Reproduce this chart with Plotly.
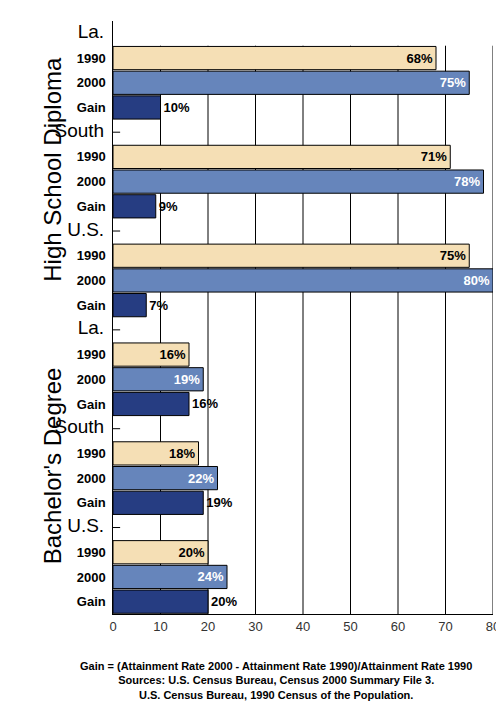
import plotly.graph_objects as go

regions = ["La.", "South", "U.S."]
hs_1990 = [68, 71, 75]
hs_2000 = [75, 78, 80]
hs_gain = [10, 9, 7]
ba_1990 = [16, 18, 20]
ba_2000 = [19, 22, 24]
ba_gain = [16, 19, 20]
row_labels = ["1990", "2000", "Gain"]
x_ticks = [0, 10, 20, 30, 40, 50, 60, 70, 80]

C1990 = "#f5dfb5"
C2000 = "#6685bb"
CGAIN = "#263d82"

# build rows top to bottom: header row then 1990/2000/Gain per region
rows = []
for block in [(hs_1990, hs_2000, hs_gain), (ba_1990, ba_2000, ba_gain)]:
    for r, name in enumerate(regions):
        rows.append(("head", name, None))
        rows.append(("1990", "1990", block[0][r]))
        rows.append(("2000", "2000", block[1][r]))
        rows.append(("gain", "Gain", block[2][r]))

ypos = [-i for i in range(len(rows))]
tickvals, ticktext = [], []
for (kind, lab, v), y in zip(rows, ypos):
    tickvals.append(y)
    if kind == "head":
        ticktext.append("<span style='font-size:19px'>%s </span>" % lab)
    else:
        ticktext.append("<b>%s</b> " % lab)

fig = go.Figure()
styles = {"1990": (C1990, "inside", "black"),
          "2000": (C2000, "inside", "white"),
          "gain": (CGAIN, "outside", "black")}
for kind, (col, pos, tcol) in styles.items():
    xs = [v for k, l, v in rows if k == kind]
    ys = [y for (k, l, v), y in zip(rows, ypos) if k == kind]
    fig.add_trace(go.Bar(
        x=xs, y=ys, orientation="h", width=0.94,
        marker=dict(color=col, line=dict(color="black", width=1)),
        text=["<b>%d%%</b>" % v for v in xs], textposition=pos,
        insidetextanchor="end", cliponaxis=False,
        textfont=dict(color=tcol, size=13, family="Liberation Sans"),
        hoverinfo="skip"))

shapes = []
for t in x_ticks[1:]:
    shapes.append(dict(type="line", xref="x", yref="y", x0=t, x1=t,
                       y0=-23.5, y1=-0.5, layer="below",
                       line=dict(color="black", width=1)))
for (kind, lab, v), y in zip(rows, ypos):
    if kind == "head" and y != 0:
        shapes.append(dict(type="line", xref="x", yref="y", x0=0, x1=1.5,
                           y0=y, y1=y, line=dict(color="black", width=1)))

fig.update_layout(
    width=504, height=705, margin=dict(l=105, r=19, t=13, b=99),
    paper_bgcolor="white", plot_bgcolor="white", showlegend=False,
    barmode="overlay", shapes=shapes,
    font=dict(family="Liberation Sans", color="black"),
    xaxis=dict(range=[0, 80], tickvals=x_ticks, showgrid=False,
               zeroline=False, showline=True, linecolor="black",
               automargin=False, tickfont=dict(size=13, color="#333")),
    yaxis=dict(range=[-23.5, 0.5], tickvals=tickvals, ticktext=ticktext,
               showgrid=False, zeroline=False, showline=True,
               linecolor="black", ticks="", ticklen=0, automargin=False,
               tickfont=dict(size=13, color="black")),
    annotations=[
        dict(text="High School Diploma", textangle=-90, x=-0.2, y=-5.5,
             xref="paper", yref="y", showarrow=False,
             font=dict(size=24)),
        dict(text="Bachelor's Degree", textangle=-90, x=-0.2, y=-17.5,
             xref="paper", yref="y", showarrow=False,
             font=dict(size=24)),
        dict(text="<b>Gain = (Attainment Rate 2000 - Attainment Rate 1990)/Attainment Rate 1990"
                  "<br>Sources: U.S. Census Bureau, Census 2000 Summary File 3."
                  "<br>U.S. Census Bureau, 1990 Census of the Population.</b>",
             x=0.43, y=-0.075, xref="paper", yref="paper", xanchor="center",
             yanchor="top", showarrow=False, font=dict(size=11)),
    ])

fig.write_html("out.html")
